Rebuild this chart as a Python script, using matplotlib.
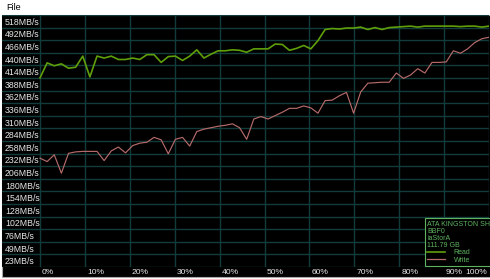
import matplotlib.pyplot as plt
from matplotlib.patches import Rectangle
from matplotlib.lines import Line2D
from matplotlib.transforms import ScaledTranslation
import numpy as np

# Read / write speed samples (MB/s) across the drive, 0% .. 100%
read_mb = [391, 422, 416, 420, 411, 413, 436, 393, 436, 432, 436, 429,
           429, 432, 429, 439, 439, 423, 435, 436, 427, 436, 449, 432,
           440, 447, 447, 449, 448, 444, 451, 451, 451, 461, 460, 448,
           452, 458, 451, 468, 491, 493, 492, 494, 494, 496, 491, 495,
           491, 495, 496, 497, 498, 496, 498, 498, 498, 498, 498, 497,
           498, 498, 496, 498]
write_mb = [225, 218, 232, 194, 235, 238, 239, 239, 239, 220, 240, 248,
            236, 251, 256, 258, 268, 263, 234, 264, 268, 250, 280, 285,
            288, 291, 293, 296, 288, 264, 306, 311, 306, 313, 320, 328,
            328, 333, 329, 318, 344, 345, 354, 361, 318, 362, 380, 381,
            382, 382, 401, 390, 397, 410, 401, 423, 423, 424, 447, 442,
            451, 464, 472, 475]

y_labels = ['23MB/s', '49MB/s', '76MB/s', '102MB/s', '128MB/s', '154MB/s',
            '180MB/s', '206MB/s', '232MB/s', '258MB/s', '284MB/s', '310MB/s',
            '336MB/s', '362MB/s', '388MB/s', '414MB/s', '440MB/s', '466MB/s',
            '492MB/s', '518MB/s']
x_labels = ['0%', '10%', '20%', '30%', '40%', '50%', '60%', '70%', '80%',
            '90%', '100%']
scale_max = 521
drive_info = ['ATA KINGSTON SH', 'BBF0', 'iaStorA', '111.79 GB']
series_names = ['Read', 'Write']

read_color = '#5f9f0a'
write_color = '#b56a6a'
grid_color = '#123c3c'
text_color = '#e6e6e6'
legend_color = '#5fb35f'

W, H = 490, 279
plt.rcParams['font.family'] = ['Liberation Sans', 'DejaVu Sans']
fig = plt.figure(figsize=(W / 100, H / 100), dpi=100)
fig.patch.set_facecolor('white')

# menu bar text and black panel behind the chart
fig.text(6 / W, 1 - 7 / H, 'File', fontsize=6.5, va='center', color='black')
fig.patches.append(Rectangle((2 / W, 2 / H), 1, 262 / H, transform=fig.transFigure,
                             facecolor='black', edgecolor='#a8a8a8', lw=0.8, zorder=-5))

ax = fig.add_axes([2 / W, 12 / H, 487 / W, 252 / H])
ax.set_facecolor('black')
ax.set_xlim(-38 / 449 * 100, 100)
ax.set_ylim(0, scale_max)

pos = np.linspace(0, 100, len(read_mb))
ax.plot(pos, read_mb, color=read_color, lw=1.2, zorder=3)
ax.plot(pos, write_mb, color=write_color, lw=0.85, zorder=3)

# grid: horizontal lines every 1/20 of scale, labels sit in the middle of each band
step = scale_max / 20
ax.set_yticks(np.arange(21) * step, minor=True)
ax.set_yticks((np.arange(20) + 0.5) * step, y_labels)
ax.set_xticks(np.arange(0, 101, 10), x_labels)
ax.grid(which='minor', axis='y', color=grid_color, lw=1)
ax.grid(which='major', axis='x', color=grid_color, lw=1)
for s in ax.spines.values():
    s.set_visible(False)

ax.tick_params(axis='y', which='both', length=0, pad=-3 * 0.72,
               labelsize=6.3, labelcolor=text_color)
ax.tick_params(axis='x', length=0, pad=1.5, labelsize=6.1, labelcolor=text_color)
for lab in ax.get_yticklabels():
    lab.set_horizontalalignment('left')
xt = ax.get_xticklabels()
for lab in xt[:-1]:
    lab.set_horizontalalignment('left')
    lab.set_transform(lab.get_transform() + ScaledTranslation(2 / 100, 0, fig.dpi_scale_trans))
xt[-1].set_horizontalalignment('right')
xt[-1].set_transform(xt[-1].get_transform() + ScaledTranslation(-2 / 100, 0, fig.dpi_scale_trans))

handles = [Line2D([], [], color=read_color, lw=1.2),
           Line2D([], [], color=write_color, lw=0.9)]
leg = fig.legend(handles, series_names, title='\n'.join(drive_info),
                 loc='lower left', bbox_to_anchor=(425 / W, 13 / H), borderaxespad=0,
                 fancybox=False, facecolor='black', edgecolor=legend_color, framealpha=1,
                 fontsize=5, title_fontsize=5, alignment='left', labelcolor=legend_color,
                 borderpad=0.3, handlelength=2.6, handletextpad=1.2, labelspacing=0.1)
leg.get_title().set_color(legend_color)
leg.get_title().set_linespacing(1.0)
leg.get_frame().set_linewidth(0.8)

fig.savefig('out.png', dpi=100, facecolor=fig.get_facecolor())
